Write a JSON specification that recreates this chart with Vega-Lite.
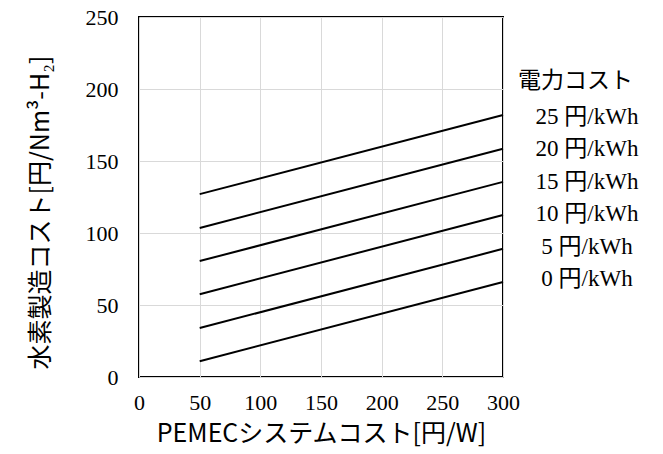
{
  "$schema": "https://vega.github.io/schema/vega-lite/v6.json",
  "autosize": "none",
  "padding": {"left": 139, "top": 17, "right": 160, "bottom": 77},
  "width": 364,
  "height": 360,
  "background": "white",
  "data": {
    "values": [
      {"pemec": 50, "h2cost": 11, "label": "0 円/kWh"},
      {"pemec": 300, "h2cost": 66, "label": "0 円/kWh"},
      {"pemec": 50, "h2cost": 34, "label": "5 円/kWh"},
      {"pemec": 300, "h2cost": 89, "label": "5 円/kWh"},
      {"pemec": 50, "h2cost": 57.5, "label": "10 円/kWh"},
      {"pemec": 300, "h2cost": 112.5, "label": "10 円/kWh"},
      {"pemec": 50, "h2cost": 80.5, "label": "15 円/kWh"},
      {"pemec": 300, "h2cost": 135.5, "label": "15 円/kWh"},
      {"pemec": 50, "h2cost": 103.5, "label": "20 円/kWh"},
      {"pemec": 300, "h2cost": 158.5, "label": "20 円/kWh"},
      {"pemec": 50, "h2cost": 127, "label": "25 円/kWh"},
      {"pemec": 300, "h2cost": 182, "label": "25 円/kWh"}
    ]
  },
  "mark": {"type": "line", "strokeWidth": 2},
  "encoding": {
    "x": {
      "field": "pemec",
      "type": "quantitative",
      "scale": {"domain": [0, 300], "nice": false},
      "axis": {
        "values": [0, 50, 100, 150, 200, 250, 300],
        "title": "PEMECシステムコスト[円/W]",
        "labelFlush": false,
        "labelFont": "Liberation Serif, serif",
        "labelPadding": 15,
        "titlePadding": 8,
        "titleFontSize": 25
      }
    },
    "y": {
      "field": "h2cost",
      "type": "quantitative",
      "scale": {"domain": [0, 250], "nice": false},
      "axis": {
        "values": [0, 50, 100, 150, 200, 250],
        "title": "水素製造コスト[円/Nm³-H₂]",
        "labelFlush": false,
        "labelFont": "Liberation Serif, serif",
        "labelPadding": 21,
        "titlePadding": 32,
        "titleFontSize": 25,
        "titleY": 195
      }
    },
    "color": {
      "field": "label",
      "type": "nominal",
      "sort": ["25 円/kWh", "20 円/kWh", "15 円/kWh", "10 円/kWh", "5 円/kWh", "0 円/kWh"],
      "scale": {"range": ["black"]},
      "legend": {
        "title": "電力コスト",
        "orient": "none",
        "legendX": 379,
        "legendY": 53,
        "padding": 0,
        "symbolSize": 0,
        "symbolOpacity": 0,
        "symbolStrokeWidth": 0,
        "labelAlign": "center",
        "labelOffset": 46,
        "labelFont": "Liberation Serif, Noto Sans CJK JP, serif",
        "labelFontSize": 23,
        "labelColor": "black",
        "labelLimit": 300,
        "rowPadding": 8.5,
        "titleFont": "Noto Sans CJK JP",
        "titleFontSize": 23,
        "titleFontWeight": "normal",
        "titleColor": "black",
        "titlePadding": 12
      }
    }
  },
  "config": {
    "view": {"stroke": "black", "strokeWidth": 2},
    "axis": {
      "ticks": false,
      "domain": false,
      "grid": true,
      "gridColor": "#d9d9d9",
      "gridWidth": 1,
      "labelFont": "Liberation Serif, serif",
      "labelFontSize": 22,
      "labelColor": "black",
      "titleFont": "Noto Sans CJK JP",
      "titleFontSize": 23,
      "titleFontWeight": "normal",
      "titleColor": "black"
    }
  }
}
